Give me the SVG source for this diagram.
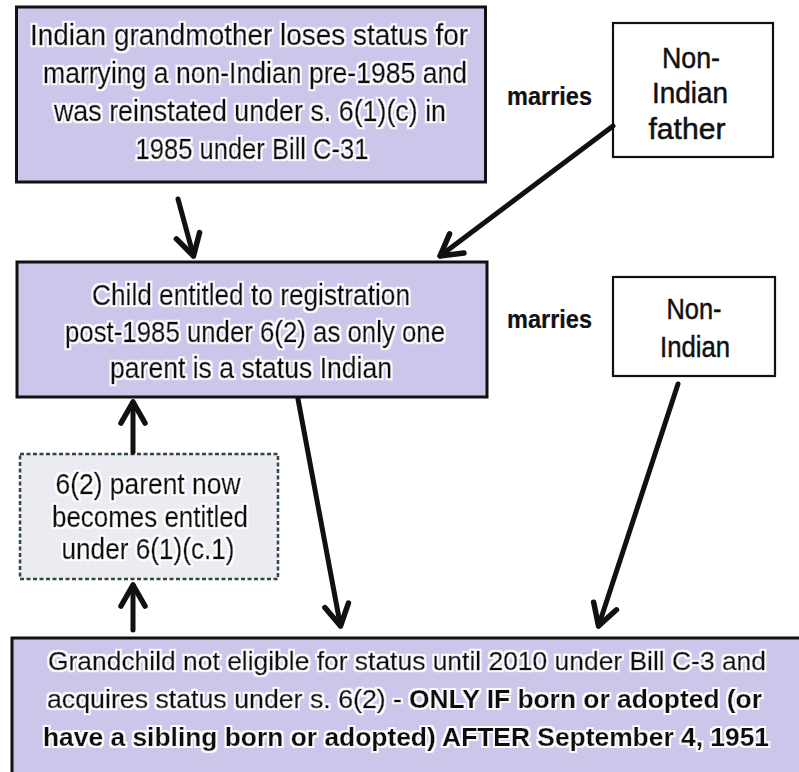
<svg xmlns="http://www.w3.org/2000/svg" width="799" height="772" viewBox="0 0 799 772">
  <defs>
    <marker id="chevron" markerUnits="userSpaceOnUse" viewBox="-26 -16 30 32" markerWidth="30" markerHeight="32" refX="0" refY="0" orient="auto">
      <path d="M-21,-12 L0,0 L-21,12" fill="none" stroke="#111" stroke-width="5.5" stroke-linecap="round" stroke-linejoin="round"/>
    </marker>
    <!-- soft white glow behind box captions -->
    <filter id="glow" x="-5%" y="-30%" width="110%" height="160%">
      <feMorphology in="SourceAlpha" operator="dilate" radius="1.6" result="grown"/>
      <feFlood flood-color="#ffffff" flood-opacity="0.9"/>
      <feComposite in2="grown" operator="in" result="white"/>
      <feGaussianBlur in="white" stdDeviation="0.6" result="soft"/>
      <feMerge>
        <feMergeNode in="soft"/>
        <feMergeNode in="SourceGraphic"/>
      </feMerge>
    </filter>
  </defs>
  <style>
    .purple { fill: #ccc6ea; stroke: #111; stroke-width: 3; }
    .plain { fill: #fff; stroke: #111; stroke-width: 2.2; }
    .dashed { fill: #ecebf1; stroke: #2e4646; stroke-width: 2.5; stroke-dasharray: 4 2.5; }
    text { font-family: "Liberation Sans", Arial, sans-serif; font-size: 30px; fill: #111; stroke: #111; stroke-width: 0.5; }
    .halo { filter: url(#glow); }
    .bold { font-weight: bold; stroke-width: 0.2; }
    .label { font-size: 25px; }
    .wide text { font-size: 26.5px; }
    .conn { fill: none; stroke: #111; stroke-width: 5; stroke-linecap: round; marker-end: url(#chevron); }
  </style>
  <rect width="799" height="772" fill="#fff"/>

  <g id="grandmother">
    <rect class="purple" x="16.5" y="7" width="469" height="175"/>
    <g class="halo" text-anchor="middle">
      <text x="249" y="45" textLength="438" lengthAdjust="spacingAndGlyphs">Indian grandmother loses status for</text>
      <text x="255" y="83" textLength="424" lengthAdjust="spacingAndGlyphs">marrying a non-Indian pre-1985 and</text>
      <text x="250" y="121" textLength="392" lengthAdjust="spacingAndGlyphs">was reinstated under s. 6(1)(c) in</text>
      <text x="252" y="159" textLength="233" lengthAdjust="spacingAndGlyphs">1985 under Bill C-31</text>
    </g>
  </g>

  <g id="marries-1">
    <text class="bold label" x="507" y="105" textLength="85" lengthAdjust="spacingAndGlyphs">marries</text>
  </g>

  <g id="non-indian-father">
    <rect class="plain" x="613" y="23" width="160" height="134"/>
    <g text-anchor="middle">
      <text x="691" y="68" textLength="58" lengthAdjust="spacingAndGlyphs">Non-</text>
      <text x="690" y="103" textLength="76" lengthAdjust="spacingAndGlyphs">Indian</text>
      <text x="687" y="139" textLength="77" lengthAdjust="spacingAndGlyphs">father</text>
    </g>
  </g>

  <g id="child">
    <rect class="purple" x="17" y="262" width="470" height="135"/>
    <g class="halo" text-anchor="middle">
      <text x="251" y="305" textLength="318" lengthAdjust="spacingAndGlyphs">Child entitled to registration</text>
      <text x="255" y="342" textLength="380" lengthAdjust="spacingAndGlyphs">post-1985 under 6(2) as only one</text>
      <text x="251" y="378" textLength="282" lengthAdjust="spacingAndGlyphs">parent is a status Indian</text>
    </g>
  </g>

  <g id="marries-2">
    <text class="bold label" x="507" y="328" textLength="85" lengthAdjust="spacingAndGlyphs">marries</text>
  </g>

  <g id="non-indian">
    <rect class="plain" x="613" y="277" width="162" height="99"/>
    <g text-anchor="middle">
      <text x="694" y="319" textLength="55" lengthAdjust="spacingAndGlyphs">Non-</text>
      <text x="695" y="357" textLength="70" lengthAdjust="spacingAndGlyphs">Indian</text>
    </g>
  </g>

  <g id="parent-entitled">
    <rect class="dashed" x="20" y="454" width="258" height="125"/>
    <g class="halo" text-anchor="middle">
      <text x="148" y="494" textLength="185" lengthAdjust="spacingAndGlyphs">6(2) parent now</text>
      <text x="150" y="527" textLength="196" lengthAdjust="spacingAndGlyphs">becomes entitled</text>
      <text x="148" y="559" textLength="173" lengthAdjust="spacingAndGlyphs">under 6(1)(c.1)</text>
    </g>
  </g>

  <g id="grandchild">
    <!-- box runs off the right and bottom edges of the page -->
    <rect class="purple" x="12" y="638" width="790" height="137"/>
    <g class="halo wide">
      <text x="48" y="670" textLength="718" lengthAdjust="spacingAndGlyphs">Grandchild not eligible for status until 2010 under Bill C-3 and</text>
      <text x="47" y="708" textLength="355" lengthAdjust="spacingAndGlyphs">acquires status under s. 6(2) -</text>
      <text class="bold" x="409" y="708" textLength="353" lengthAdjust="spacingAndGlyphs">ONLY IF born or adopted (or</text>
      <text class="bold" x="43" y="746" textLength="726" lengthAdjust="spacingAndGlyphs">have a sibling born or adopted) AFTER September 4, 1951</text>
    </g>
  </g>

  <g id="connectors">
    <path class="conn" d="M178,199 L193.5,256"/>
    <path class="conn" d="M613,126 L440,256"/>
    <path class="conn" d="M298,399 L340.5,626"/>
    <path class="conn" d="M678,384 L598.5,626"/>
    <path class="conn" d="M133,452 L133,402"/>
    <path class="conn" d="M133,630 L133,585"/>
  </g>
</svg>
